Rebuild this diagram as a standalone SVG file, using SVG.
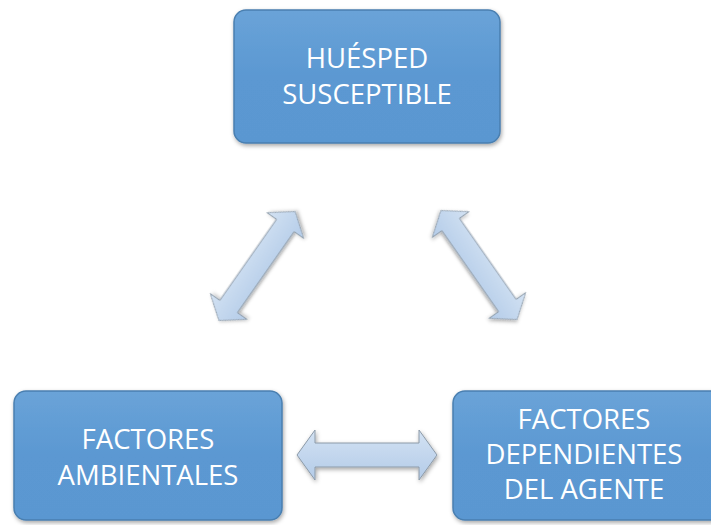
<svg xmlns="http://www.w3.org/2000/svg" width="711" height="525" viewBox="0 0 711 525">
<defs>
<linearGradient id="bx" x1="0" y1="0" x2="0" y2="1">
<stop offset="0" stop-color="#6aa3d8"/>
<stop offset="0.5" stop-color="#5b98d2"/>
<stop offset="1" stop-color="#5a97d1"/>
</linearGradient>
<linearGradient id="ar" x1="0" y1="0" x2="0" y2="1">
<stop offset="0" stop-color="#d3e2f3"/>
<stop offset="1" stop-color="#b3cbe8"/>
</linearGradient>
<filter id="sh" x="-10%" y="-10%" width="120%" height="130%">
<feDropShadow dx="1" dy="2" stdDeviation="2" flood-color="#000" flood-opacity="0.35"/>
</filter>
<path id="dbl" d="M-70,0 L-52,-25 L-52,-12 L52,-12 L52,-25 L70,0 L52,25 L52,12 L-52,12 L-52,25 Z"/>
</defs>
<style>
.box{fill:url(#bx);stroke:#4a7fb0;stroke-width:1.5;filter:url(#sh)}
.t{fill:#fff;font-family:"Open Sans","Liberation Sans",sans-serif;font-size:27.5px;text-anchor:middle}
.arr{fill:url(#ar);stroke:#8c9aa8;stroke-width:1;filter:url(#sh)}
</style>
<rect width="711" height="525" fill="#fff"/>
<g id="connectors">
<use href="#dbl" class="arr" transform="translate(367,455)"/>
<use href="#dbl" class="arr" transform="translate(257,266) rotate(-55) scale(0.95,0.9)"/>
<use href="#dbl" class="arr" transform="translate(479,265) rotate(55) scale(0.95,0.9)"/>
</g>
<g id="huesped">
<rect class="box" x="234" y="10" width="266" height="133" rx="12"/>
<text class="t" x="367" y="68">HUÉSPED</text>
<text class="t" x="367" y="104">SUSCEPTIBLE</text>
</g>
<g id="ambientales">
<rect class="box" x="14" y="391" width="268" height="129" rx="12"/>
<text class="t" x="148" y="449">FACTORES</text>
<text class="t" x="148" y="485">AMBIENTALES</text>
</g>
<g id="agente">
<rect class="box" x="453" y="391" width="270" height="129" rx="12"/>
<text class="t" x="584" y="429">FACTORES</text>
<text class="t" x="584" y="464">DEPENDIENTES</text>
<text class="t" x="584" y="499">DEL AGENTE</text>
</g>
</svg>
